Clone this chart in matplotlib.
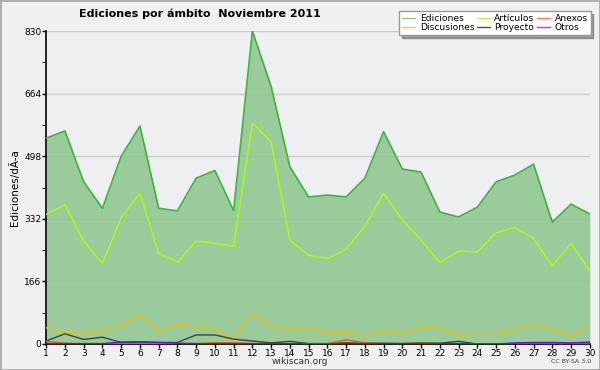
import numpy as np
import matplotlib.pyplot as plt

# Datos: ediciones por día, noviembre 2011
days = list(range(1, 31))
ediciones = [546, 565, 430, 360, 498, 578, 360, 353, 440, 460,
             354, 830, 683, 470, 390, 395, 390, 440, 563, 464,
             456, 350, 337, 363, 430, 448, 477, 323, 371, 345]
articulos = [344, 369, 273, 214, 335, 400, 240, 217, 273, 267,
             259, 586, 536, 275, 235, 227, 251, 313, 400, 329,
             276, 216, 247, 244, 295, 309, 280, 207, 267, 194]
discusiones = [43, 31, 28, 37, 48, 80, 37, 53, 48, 42,
               15, 85, 49, 39, 44, 31, 31, 26, 39, 28,
               48, 44, 26, 28, 28, 39, 55, 39, 24, 50]
proyecto = [8, 27, 12, 18, 4, 5, 4, 4, 24, 24,
            13, 8, 3, 7, 1, 1, 3, 2, 2, 1,
            3, 2, 7, 0, 0, 0, 2, 1, 1, 4]
anexos = [7, 2, 1, 1, 1, 1, 1, 1, 1, 3,
          3, 1, 1, 1, 1, 1, 11, 3, 1, 1,
          2, 1, 1, 0, 0, 0, 0, 0, 0, 0]
otros = [1, 1, 1, 1, 5, 6, 4, 2, 1, 1,
         1, 1, 1, 1, 0, 0, 0, 1, 1, 1,
         1, 1, 1, 0, 0, 3, 4, 4, 3, 5]
yticks = [0, 166, 332, 498, 664, 830]

fig = plt.figure(figsize=(6, 3.7), dpi=100)
fig.patch.set_facecolor('#f0f0f0')
fig.patch.set_edgecolor('#b0b0b0')
fig.patch.set_linewidth(2)

ax = fig.add_axes([0.077, 0.0703, 0.906, 0.8457])
ax.set_facecolor('#eeeff0')

ax.fill_between(days, ediciones, 0, color='#8cc68c', alpha=0.85, lw=0, zorder=2)
ax.plot(days, ediciones, color='#3cb43c', lw=1.2, zorder=3, label='Ediciones')
ax.plot(days, articulos, color='#aaff00', lw=1, zorder=3, label='Artículos')
ax.plot(days, discusiones, color='#f0c000', lw=1, zorder=3, label='Discusiones')
ax.plot(days, proyecto, color='#404040', lw=1, zorder=3, label='Proyecto')
ax.plot(days, anexos, color='#ff5000', lw=1, zorder=3, label='Anexos')
ax.plot(days, otros, color='#7a00ff', lw=1, zorder=3, label='Otros')

ax.set_xlim(1, 30)
ax.set_ylim(0, 830)
ax.set_xticks(days)
ax.set_yticks(yticks)
ax.set_yticks([83, 249, 415, 581, 747], minor=True)
ax.tick_params(axis='both', labelsize=6.5, length=3, width=1, pad=0.5)
ax.tick_params(axis='y', which='minor', length=3)
ax.grid(axis='y', color='#cccccc', lw=1, zorder=1)
ax.set_axisbelow(True)
for s in ['top', 'right']:
    ax.spines[s].set_visible(False)
ax.spines['left'].set_linewidth(1.2)
ax.spines['bottom'].set_linewidth(1.2)
ax.set_ylabel('Ediciones/dÃ-a', fontsize=7.5, labelpad=3)

fig.text(0.333, 0.962, 'Ediciones por ámbito  Noviembre 2011',
         ha='center', va='center', fontsize=8, fontweight='bold')
fig.text(0.5, 0.022, 'wikiscan.org', ha='center', va='center', fontsize=6.5, color='#333333')
fig.text(0.985, 0.022, 'CC BY-SA 3.0', ha='right', va='center', fontsize=4.5, color='#333333')

h, l = ax.get_legend_handles_labels()
order = [0, 2, 1, 3, 4, 5]
leg_colors = ['#80d080', '#f0d040', '#c8f040', '#505050', '#f08050', '#9050f0']
leg = fig.legend([h[i] for i in order], [l[i] for i in order],
                 loc='upper right', bbox_to_anchor=(0.992, 0.982), ncol=3,
                 fontsize=6.6, frameon=True, fancybox=False, shadow=True,
                 framealpha=1, edgecolor='#999999', handlelength=1.4,
                 handletextpad=0.5, columnspacing=0.3, labelspacing=0.05,
                 borderpad=0.3)
for line, c in zip(leg.get_lines(), leg_colors):
    line.set_color(c)
    line.set_linewidth(1)

fig.savefig('out.png', dpi=100, facecolor=fig.get_facecolor(), edgecolor=fig.get_edgecolor())
